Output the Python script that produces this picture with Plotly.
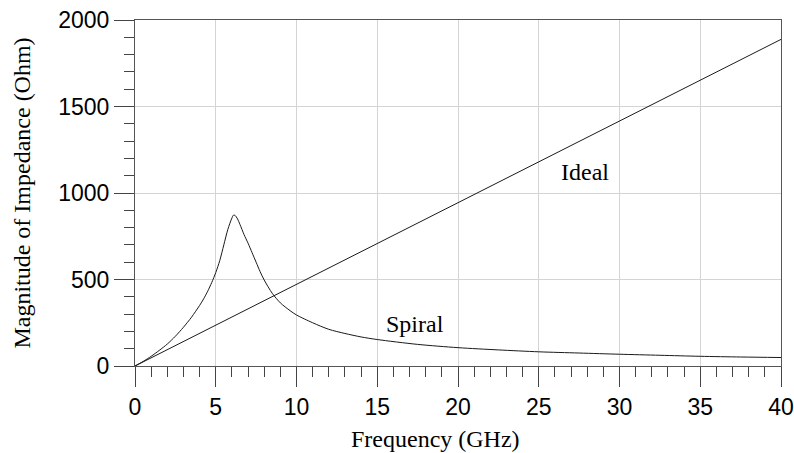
import plotly.graph_objects as go

# Frequency sweep (GHz) and impedance magnitude (Ohm) of the spiral inductor
spiral_freq = [0, 0.5, 1, 1.5, 2, 2.5, 3, 3.5, 4, 4.25, 4.5, 4.75, 5, 5.25, 5.5, 5.75,
               6, 6.1, 6.2, 6.35, 6.5, 6.75, 7, 7.25, 7.5, 7.75, 8, 8.5, 9, 9.6, 10,
               11, 12, 13, 14, 15, 17.5, 20, 22.5, 25, 27.5, 30, 32.5, 35, 37.5, 40]
spiral_z = [0, 26, 56, 90, 127, 172, 224, 282, 350, 388, 432, 482, 540, 610, 700, 790,
            855, 872, 870, 850, 818, 760, 710, 655, 600, 545, 497, 420, 365, 320, 295,
            250, 212, 188, 168, 153, 125, 106, 93, 82, 75, 68, 62, 56, 52, 49]

# Ideal inductor: linear reactance
ideal_freq = [0, 40]
ideal_z = [0, 1888]

x_ticks = [0, 5, 10, 15, 20, 25, 30, 35, 40]
y_ticks = [0, 500, 1000, 1500, 2000]

serif = "Liberation Serif, Times New Roman, serif"
sans = "Liberation Sans, Arial, sans-serif"

fig = go.Figure()
fig.add_trace(go.Scatter(x=ideal_freq, y=ideal_z, mode="lines", name="Ideal",
                         line=dict(color="#1a1a1a", width=1)))
fig.add_trace(go.Scatter(x=spiral_freq, y=spiral_z, mode="lines", name="Spiral",
                         line=dict(color="#1a1a1a", width=1, shape="spline", smoothing=0.8)))

fig.add_annotation(x=27.86, y=1124, text="Ideal", showarrow=False,
                   font=dict(family=serif, size=24, color="black"))
fig.add_annotation(x=17.34, y=240, text="Spiral", showarrow=False,
                   font=dict(family=serif, size=24, color="black"))

# x-axis title, placed slightly left of the plot centre
fig.add_annotation(x=0.4644, y=-0.21, xref="paper", yref="paper",
                   xanchor="center", yanchor="middle", showarrow=False,
                   text="Frequency (GHz)",
                   font=dict(family=serif, size=24, color="black"))

axis_common = dict(
    showline=True, linecolor="#555555", linewidth=1, mirror=True,
    showgrid=True, gridcolor="#d4d4d4", gridwidth=1,
    zeroline=False, automargin=False,
    ticks="outside", ticklen=20, tickcolor="#444444", tickwidth=1,
    tickfont=dict(family=sans, size=23, color="black"),
)

fig.update_xaxes(
    range=[0, 40], tickvals=x_ticks, ticktext=[str(v) for v in x_ticks],
    minor=dict(dtick=1, ticks="outside", ticklen=10, tickcolor="#444444", showgrid=False),
    **axis_common,
)
fig.update_yaxes(
    range=[0, 2000], tickvals=y_ticks, ticktext=[str(v) for v in y_ticks],
    minor=dict(dtick=100, ticks="outside", ticklen=10, tickcolor="#444444", showgrid=False),
    title=dict(text="Magnitude of Impedance (Ohm)", font=dict(family=serif, size=24, color="black"), standoff=20),
    **axis_common,
)

fig.update_layout(
    width=794, height=453,
    margin=dict(l=135, r=13, t=20, b=87),
    paper_bgcolor="white", plot_bgcolor="white",
    showlegend=False,
)

fig.write_html("out.html")
